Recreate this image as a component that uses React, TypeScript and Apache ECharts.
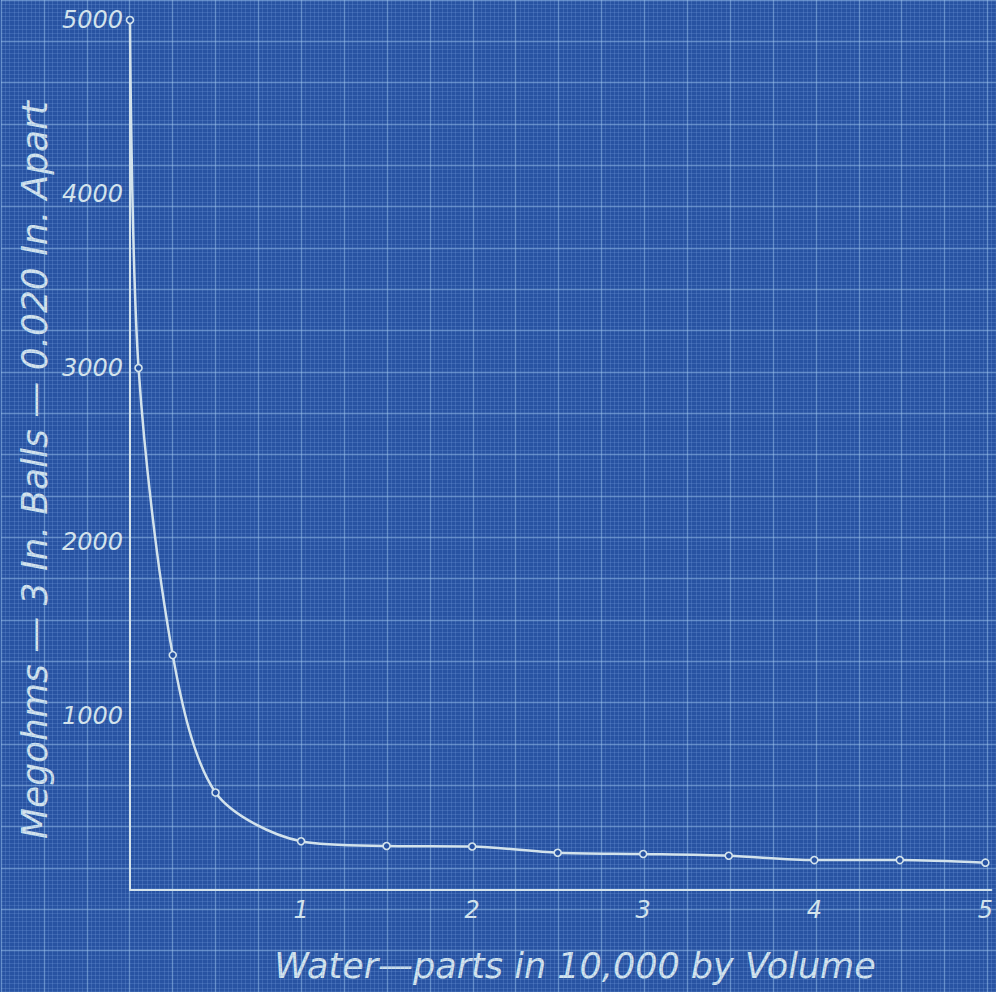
import React, { useEffect, useRef } from "react";
import * as echarts from "echarts";

const waterParts = [0, 0.05, 0.25, 0.5, 1, 1.5, 2, 2.5, 3, 3.5, 4, 4.5, 5];
const megohms = [5000, 3000, 1350, 560, 280, 253, 250, 214, 207, 197, 172, 172, 157];
const xTickLabels = ["1", "2", "3", "4", "5"];
const yTickLabels = ["1000", "2000", "3000", "4000", "5000"];
const xTitle = "Water\u2014parts in 10,000 by Volume";
const yTitle = "Megohms \u2014 3 In. Balls \u2014 0.020 In. Apart";

const INK = "#d3e3ec";
const PAPER = "#2853a2";
const FONT = "'DejaVu Sans', 'Open Sans', sans-serif";

export default function App() {
  const ref = useRef<HTMLDivElement>(null);
  useEffect(() => {
    if (!ref.current) return;
    const chart = echarts.init(ref.current, null, { renderer: "svg" });
    const points = waterParts.map((x, i) => [x, megohms[i]]);
    const major = { color: "rgba(160,200,240,0.5)", width: 1.3 };
    const minor = { color: "rgba(130,175,230,0.22)", width: 1 };
    const option: any = {
      animation: false,
      backgroundColor: PAPER,
      grid: [
        { left: 1, top: -23.5, width: 997.6, height: 1044, show: false },
        { left: 130, top: 20, width: 866, height: 870, show: false },
      ],
      xAxis: [
        {
          gridIndex: 0,
          type: "value",
          min: -30,
          max: 202,
          interval: 10,
          axisLine: { show: false },
          axisTick: { show: false },
          axisLabel: { show: false },
          splitLine: { show: true, lineStyle: major },
          minorTick: { show: false, splitNumber: 10 },
          minorSplitLine: { show: true, lineStyle: minor },
        },
        {
          gridIndex: 1,
          type: "value",
          min: 0,
          max: 5.035,
          interval: 1,
          axisLine: { show: true, onZero: false, lineStyle: { color: INK, width: 2 } },
          axisTick: { show: false },
          splitLine: { show: false },
          axisLabel: {
            color: INK,
            fontFamily: FONT,
            fontStyle: "italic",
            fontSize: 24,
            margin: 8,
            formatter: (v: number) => {
              const i = Math.round(v);
              if (Math.abs(v - i) > 1e-6 || i < 1 || i > xTickLabels.length) return "";
              return xTickLabels[i - 1];
            },
          },
        },
      ],
      yAxis: [
        {
          gridIndex: 0,
          type: "value",
          min: -30,
          max: 210,
          interval: 10,
          axisLine: { show: false },
          axisTick: { show: false },
          axisLabel: { show: false },
          splitLine: { show: true, lineStyle: major },
          minorTick: { show: false, splitNumber: 10 },
          minorSplitLine: { show: true, lineStyle: minor },
        },
        {
          gridIndex: 1,
          type: "value",
          min: 0,
          max: 5000,
          interval: 1000,
          axisLine: { show: true, onZero: false, lineStyle: { color: INK, width: 2 } },
          axisTick: { show: false },
          splitLine: { show: false },
          axisLabel: {
            color: INK,
            fontFamily: FONT,
            fontStyle: "italic",
            fontSize: 24,
            margin: 7,
            formatter: (v: number) => {
              const i = Math.round(v / 1000);
              if (i < 1 || i > yTickLabels.length) return "";
              return yTickLabels[i - 1];
            },
          },
        },
      ],
      series: [
        {
          type: "line",
          xAxisIndex: 1,
          yAxisIndex: 1,
          data: points,
          smooth: 0.3,
          symbol: "circle",
          symbolSize: 7,
          lineStyle: { color: INK, width: 2.5 },
          itemStyle: { color: PAPER, borderColor: INK, borderWidth: 1.6 },
          z: 5,
        },
      ],
      graphic: [
        {
          type: "text",
          x: 575,
          y: 966,
          style: {
            text: xTitle,
            fill: INK,
            font: `italic 35px ${FONT}`,
            align: "center",
            verticalAlign: "middle",
          },
        },
        {
          type: "text",
          x: 34,
          y: 470,
          rotation: Math.PI / 2,
          style: {
            text: yTitle,
            fill: INK,
            font: `italic 36px ${FONT}`,
            align: "center",
            verticalAlign: "middle",
          },
        },
      ],
    };
    chart.setOption(option);
    return () => chart.dispose();
  }, []);
  return (
    <div
      ref={ref}
      style={{ position: "fixed", left: 0, top: 0, width: 996, height: 992 }}
    />
  );
}
